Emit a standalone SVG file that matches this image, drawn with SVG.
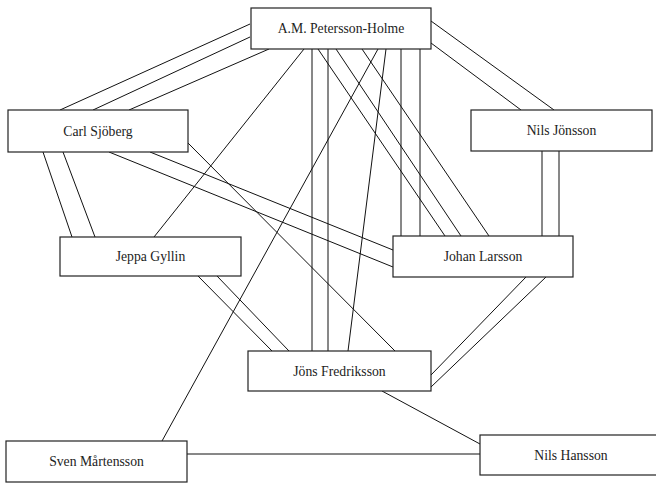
<svg xmlns="http://www.w3.org/2000/svg" width="656" height="483" viewBox="0 0 656 483">
<style>
.e line{stroke:#111;stroke-width:1;fill:none}
.n rect{fill:#fff;stroke:#222;stroke-width:1.2}
.n text{font-family:"Liberation Serif","DejaVu Serif",serif;font-size:13.7px;fill:#222;text-anchor:middle}
</style>
<rect width="656" height="483" fill="#fff"/>
<g id="connectors" class="e">
<line x1="250" y1="24" x2="60" y2="110"/>
<line x1="250" y1="37" x2="93" y2="110"/>
<line x1="269" y1="49" x2="129" y2="110"/>
<line x1="304" y1="49" x2="154" y2="237"/>
<line x1="312" y1="49" x2="312" y2="351"/>
<line x1="328" y1="49" x2="328" y2="351"/>
<line x1="401" y1="49" x2="401" y2="236"/>
<line x1="420" y1="49" x2="420" y2="236"/>
<line x1="318" y1="49" x2="445" y2="236"/>
<line x1="336" y1="49" x2="461" y2="236"/>
<line x1="362" y1="49" x2="489" y2="236"/>
<line x1="378" y1="49" x2="162" y2="441"/>
<line x1="386" y1="49" x2="348" y2="351"/>
<line x1="431" y1="21" x2="554" y2="110"/>
<line x1="431" y1="43" x2="521" y2="110"/>
<line x1="43" y1="152" x2="72" y2="237"/>
<line x1="63" y1="152" x2="95" y2="237"/>
<line x1="150" y1="152" x2="393" y2="250"/>
<line x1="109" y1="152" x2="393" y2="267"/>
<line x1="188" y1="143" x2="395" y2="351"/>
<line x1="198" y1="276" x2="272" y2="351"/>
<line x1="217" y1="276" x2="289" y2="351"/>
<line x1="526" y1="277" x2="431" y2="375"/>
<line x1="546" y1="277" x2="431" y2="387"/>
<line x1="542" y1="151" x2="542" y2="236"/>
<line x1="559" y1="151" x2="559" y2="236"/>
<line x1="382" y1="391" x2="480" y2="444"/>
<line x1="187" y1="454" x2="480" y2="454"/>
</g>
<g id="node-petersson" class="n"><rect x="251" y="8" width="180" height="41"/><text x="341" y="33">A.M. Petersson-Holme</text></g>
<g id="node-carl" class="n"><rect x="8" y="110" width="180" height="42"/><text x="98" y="135.5">Carl Sjöberg</text></g>
<g id="node-nilsj" class="n"><rect x="471" y="110" width="181" height="41"/><text x="561.5" y="135">Nils Jönsson</text></g>
<g id="node-jeppa" class="n"><rect x="60" y="237" width="181" height="39"/><text x="150.5" y="261">Jeppa Gyllin</text></g>
<g id="node-johan" class="n"><rect x="393" y="236" width="180" height="41"/><text x="483" y="261">Johan Larsson</text></g>
<g id="node-jons" class="n"><rect x="248" y="351" width="183" height="40"/><text x="339.5" y="375.5">Jöns Fredriksson</text></g>
<g id="node-sven" class="n"><rect x="6" y="441" width="181" height="41"/><text x="96.5" y="466">Sven Mårtensson</text></g>
<g id="node-nilsh" class="n"><rect x="480" y="435" width="182" height="40"/><text x="571" y="459.5">Nils Hansson</text></g>
</svg>
